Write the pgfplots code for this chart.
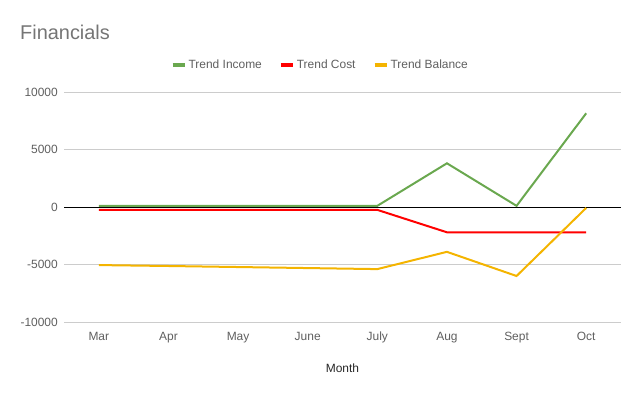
\documentclass[border=0pt]{standalone}
\usepackage{fontspec}
\setmainfont{Liberation Sans}
\usepackage{pgfplots}
\pgfplotsset{compat=1.18}
\definecolor{cInc}{HTML}{6AA84F}
\definecolor{cCost}{HTML}{FF0000}
\definecolor{cBal}{HTML}{F4B400}
\definecolor{cGrid}{HTML}{CCCCCC}
\definecolor{cTick}{HTML}{5F5F5F}
\definecolor{cTitle}{HTML}{757575}
\begin{document}
\begin{tikzpicture}[x=1bp,y=1bp]
\path[use as bounding box] (0,0) rectangle (640,396);
\node[anchor=west, text=cTitle, inner sep=0pt] at (20,364) {\fontsize{20}{24}\selectfont Financials};
\begin{axis}[
  at={(64bp,74bp)}, anchor=south west,
  width=557bp, height=230bp, scale only axis,
  xmin=-0.5, xmax=7.5, ymin=-10000, ymax=10000,
  xtick={0,...,7},
  xticklabels={Mar,Apr,May,June,July,Aug,Sept,Oct},
  ytick={-10000,-5000,0,5000,10000},
  extra y ticks={0}, extra y tick labels={},
  extra y tick style={grid style={black, line width=0.9bp}},
  scaled ticks=false,
  /pgf/number format/.cd, 1000 sep={}, assume math mode=true, /pgfplots/.cd,
  axis line style={draw=none},
  major tick length=0pt,
  ymajorgrids, grid style={cGrid, line width=0.9bp},
  tick label style={font=\fontsize{12}{14}\selectfont, text=cTick},
  xticklabel style={anchor=base, yshift=-18bp},
  yticklabel style={anchor=east, inner sep=0pt, xshift=-6bp},
  xlabel={Month},
  xlabel style={at={(axis description cs:0.5,-0.2)}, anchor=center, font=\fontsize{12}{14}\selectfont, text=black!85},
  legend style={at={(0.46,1.117)}, anchor=center, draw=none, fill=none,
    legend columns=3, font=\fontsize{12}{14}\selectfont, text=cTick,
    /tikz/every even column/.append style={column sep=15bp}},
  legend image code/.code={\draw[line width=4bp] (0bp,0bp) -- (12bp,0bp);},
]
\addplot[cInc, line width=2bp] coordinates {(0,100) (1,100) (2,100) (3,100) (4,100) (5,3800) (6,100) (7,8150)};
\addlegendentry{Trend Income}
\addplot[cCost, line width=2bp] coordinates {(0,-250) (1,-250) (2,-250) (3,-250) (4,-250) (5,-2200) (6,-2200) (7,-2200)};
\addlegendentry{Trend Cost}
\addplot[cBal, line width=2bp] coordinates {(0,-5050) (1,-5130) (2,-5220) (3,-5310) (4,-5400) (5,-3900) (6,-6000) (7,-80)};
\addlegendentry{Trend Balance}
\end{axis}
\end{tikzpicture}
\end{document}
